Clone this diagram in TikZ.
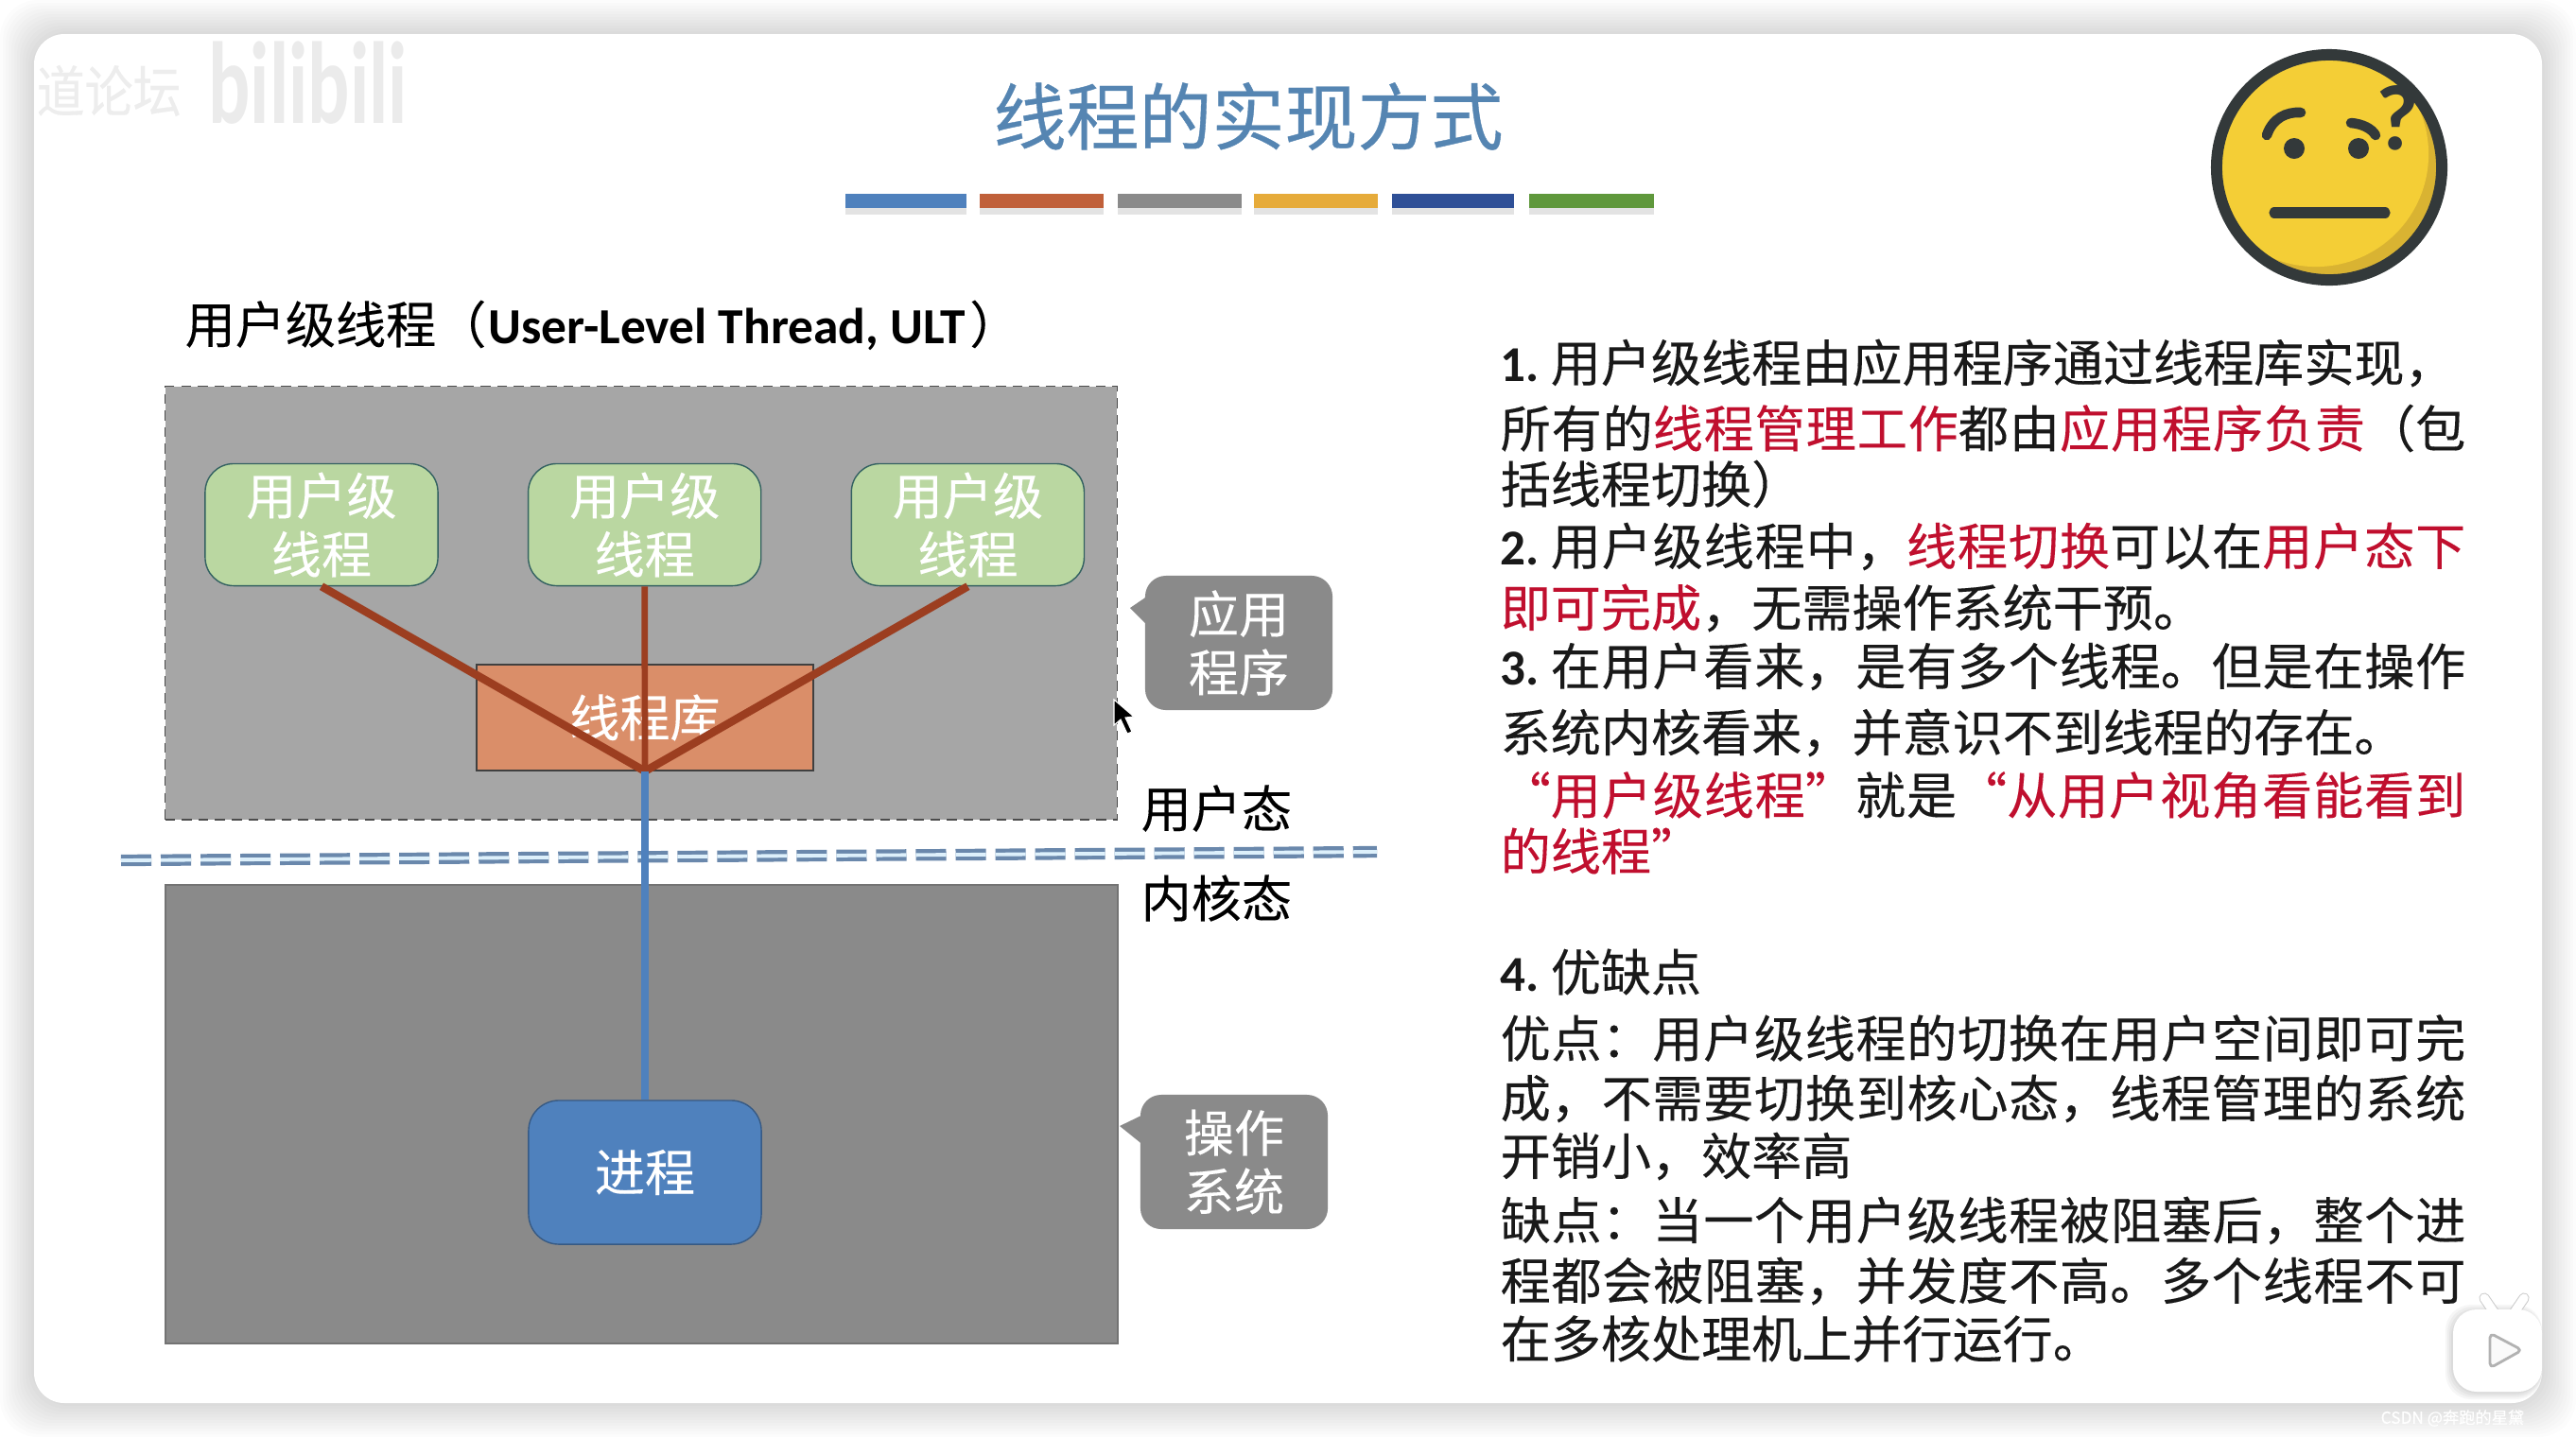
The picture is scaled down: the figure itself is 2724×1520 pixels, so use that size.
\documentclass[tikz,border=0pt]{standalone}
\usepackage{fontspec}
\usetikzlibrary{shadows}
\setmainfont[FakeBold=0.2]{Noto Sans CJK SC}
\newfontfamily\titlefont[FakeBold=0.5]{Noto Sans CJK SC}
\newfontfamily\latinfont{Carlito}
\XeTeXlinebreaklocale "zh"
\XeTeXlinebreakskip=0pt plus 3pt
\newcommand{\bodysize}{\fontsize{15.1}{17.6}\selectfont}
\newcommand{\num}[1]{{\latinfont\bfseries #1}\hspace{0.12cm}}
\newcommand{\redtext}[1]{\textcolor{alertred}{#1}}
\newcommand{\fullline}[1]{\parbox{10.2cm}{\parfillskip=0pt\parindent=0pt\hbadness=10000 #1}}
\definecolor{titleblue}{HTML}{5585B2}
\definecolor{alertred}{HTML}{C00F2E}
\definecolor{userbox}{HTML}{A6A6A6}
\definecolor{kernelbox}{HTML}{8A8A8A}
\definecolor{threadgreen}{HTML}{BAD7A1}
\definecolor{libraryorange}{HTML}{DA8E69}
\definecolor{linkbrown}{HTML}{9C3E20}
\definecolor{procblue}{HTML}{4F81BD}
\definecolor{facedark}{HTML}{33393A}
\definecolor{faceyellow}{HTML}{F4CE36}
\definecolor{faceshade}{HTML}{D9B332}
\definecolor{dashblue}{HTML}{6A88AC}
\definecolor{dashpale}{HTML}{DDF0FB}
\tikzstyle{thread} = [
    rectangle,
    rounded corners=0.3cm,
    minimum width=2.46cm,
    minimum height=1.29cm,
    inner sep=0pt,
    align=center,
    fill=threadgreen,
    draw=black!40!teal!60!gray,
    text=white,
    font=\bodysize
]
\tikzstyle{library} = [
    rectangle,
    minimum width=3.56cm,
    minimum height=1.12cm,
    inner sep=0pt,
    fill=libraryorange,
    draw=black!50!gray,
    text=white,
    font=\bodysize
]
\tikzstyle{procbox} = [
    rectangle,
    rounded corners=0.32cm,
    minimum width=2.46cm,
    minimum height=1.52cm,
    inner sep=0pt,
    fill=procblue,
    draw=procblue!70!black,
    text=white,
    font=\bodysize
]
\tikzstyle{callout} = [
    rectangle,
    rounded corners=0.22cm,
    minimum width=1.98cm,
    minimum height=1.42cm,
    inner sep=0pt,
    align=center,
    fill=kernelbox,
    text=white,
    font=\bodysize
]
\tikzstyle{textline} = [anchor=west, inner sep=0pt, text=black!90, font=\bodysize]
\tikzstyle{statelabel} = [anchor=west, inner sep=0pt, text=black, font=\bodysize]
\tikzstyle{colourbar} = [
    minimum height=0.15cm,
    inner sep=0pt,
    anchor=west,
    drop shadow={opacity=0.22, shadow xshift=0cm, shadow yshift=-0.07cm}
]
\tikzstyle{thicklink} = [line width=2.4pt, draw=linkbrown]
\tikzstyle{bluelink} = [line width=2pt, draw=procblue]
\begin{document}
\begin{tikzpicture}[x=0.01cm, y=-0.01cm, node distance=3.415cm]
\useasboundingbox (0,0) rectangle (2724,1520);

% slide with its soft shadow
\fill [white] (0,0) rectangle (2724,1520);
\foreach \r in {36,33,...,0}
    \fill [black, opacity=0.013, rounded corners=0.4cm]
        (36-\r,36-\r) rectangle (2688+\r,1484+\r);
\fill [white, rounded corners=0.32cm] (36,36) rectangle (2688,1484);

% watermarks
\node (station) [anchor=west, inner sep=0pt, text=black!7, yscale=1.15, font=\fontsize{14.5}{16}\selectfont] at (38,96) {道论坛};
\node (bilibili) [anchor=west, inner sep=0pt, text=black!8, xscale=0.87, yscale=1.3, font=\latinfont\bfseries\fontsize{27}{28}\selectfont] at (220,88) {bilibili};
\node (csdn) [anchor=west, inner sep=0pt, text=white, font=\fontsize{4.9}{6}\selectfont] at (2517,1500) {CSDN @奔跑的星黛};

% title
\node (title) [text=titleblue, inner sep=0pt, font=\titlefont\fontsize{21.9}{24}\selectfont] at (1320,123) {线程的实现方式};
\node (bar1) [colourbar, minimum width=1.28cm, fill=procblue] at (893,212) {};
\node (bar2) [colourbar, minimum width=1.31cm, fill={rgb,255:red,192;green,96;blue,58}] at (1035,212) {};
\node (bar3) [colourbar, minimum width=1.31cm, fill=kernelbox] at (1181,212) {};
\node (bar4) [colourbar, minimum width=1.31cm, fill={rgb,255:red,230;green,171;blue,58}] at (1325,212) {};
\node (bar5) [colourbar, minimum width=1.29cm, fill={rgb,255:red,47;green,80;blue,151}] at (1471,212) {};
\node (bar6) [colourbar, minimum width=1.32cm, fill={rgb,255:red,95;green,152;blue,60}] at (1616,212) {};

% puzzled face
\begin{scope}
    \clip (2463,177) circle [radius=1.19cm];
    \fill [faceshade] (2463,177) circle [radius=1.25cm];
    \fill [faceyellow] (2449,163) circle [radius=1.19cm];
\end{scope}
\draw [facedark, line width=3.4pt] (2463,177) circle [radius=1.19cm];
\draw [facedark, line width=3pt, line cap=round] (2397,143) .. controls (2403,125) and (2418,118) .. (2433,119);
\draw [facedark, line width=3pt, line cap=round] (2486,130) .. controls (2498,131) and (2508,136) .. (2512,143);
\fill [facedark] (2426,157) circle [radius=0.11cm];
\fill [facedark] (2494,157) circle [radius=0.11cm];
\draw [facedark, line width=3.2pt, line cap=round] (2405,225) -- (2522,225);
\node (qmark) [inner sep=0pt, text=facedark, font=\latinfont\bfseries\fontsize{28}{28}\selectfont] at (2535,125) {?};

% left part
\node (subtitle) [anchor=west, inner sep=0pt, text=black, font=\bodysize] at (195,344)
{用户级线程（\hspace{0.02cm}{\latinfont\bfseries\fontsize{15.2}{18}\selectfont User-Level Thread, ULT}\hspace{0.04cm}）};

\node (userspace) [anchor=north west, minimum width=10.06cm, minimum height=4.58cm, inner sep=0pt,
    fill=userbox, draw=black!70, densely dashed, line width=0.4pt] at (174,408) {};
\node (kernelspace) [anchor=north west, minimum width=10.06cm, minimum height=4.85cm, inner sep=0pt,
    fill=kernelbox, draw=black!55, line width=0.6pt] at (174,935) {};

\coordinate (dashstart) at (128,910);
\coordinate (dashend) at (1456,901);
\draw [draw=dashblue, line width=1.2pt, double=dashpale, double distance=1.1pt, dash pattern=on 0.32cm off 0.1cm] (dashstart) -- (dashend);

\node (thread1) [thread] at (340,555) {用户级\\线程};
\node (thread2) [thread, right of=thread1] {用户级\\线程};
\node (thread3) [thread, right of=thread2] {用户级\\线程};
\node (threadlib) [library] at (682,759) {线程库};
\node (process) [procbox] at (682,1240) {进程};

\draw [thicklink] (thread1.south) -- (threadlib.south);
\draw [thicklink, line width=1.9pt] (thread2.south) -- (threadlib.south);
\draw [thicklink] (thread3.south) -- (threadlib.south);
\draw [bluelink] (threadlib.south) -- (process.north);

\node (statuser) [statelabel] at (1206,855) {用户态};
\node (statkernel) [statelabel] at (1206,950) {内核态};

\node (appnote) [callout] at (1310,680) {应用\\程序};
\coordinate (apptip) at (1195,643);
\fill [kernelbox] (1220,626) -- (apptip) -- (1220,668) -- cycle;
\node (osnote) [callout] at (1305,1229) {操作\\系统};
\coordinate (ostip) at (1184,1191);
\fill [kernelbox] (1215,1176) -- (ostip) -- (1215,1216) -- cycle;

% mouse pointer
\fill [black, draw=white, line width=0.3pt] (1178,740) -- (1178,767) -- (1185,761) -- (1192,776) -- (1197,774) -- (1190,759) -- (1199,758) -- cycle;

% right part
\node (line1) [textline] at (1586,384) {\num{1.}用户级线程由应用程序通过线程库实现，};
\node (line2) [textline] at (1586,453) {\fullline{所有的\redtext{线程管理工作}都由\redtext{应用程序负责}（包}};
\node (line3) [textline] at (1586,512) {括线程切换）};
\node (line4) [textline] at (1586,578) {\fullline{\num{2.}用户级线程中，\redtext{线程切换}可以在\redtext{用户态下}}};
\node (line5) [textline] at (1586,643) {\redtext{即可完成}，无需操作系统干预。};
\node (line6) [textline] at (1586,705) {\fullline{\num{3.}在用户看来，是有多个线程。但是在操作}};
\node (line7) [textline] at (1586,775) {系统内核看来，并意识不到线程的存在。};
\node (line8) [textline] at (1586,841) {\fullline{\redtext{“用户级线程”}就是\redtext{“从用户视角看能看到}}};
\node (line9) [textline] at (1586,900) {\redtext{的线程”}};
\node (line10) [textline] at (1586,1028) {\num{4.}优缺点};
\node (line11) [textline] at (1586,1098) {\fullline{优点：用户级线程的切换在用户空间即可完}};
\node (line12) [textline] at (1586,1162) {\fullline{成，不需要切换到核心态，线程管理的系统}};
\node (line13) [textline] at (1586,1223) {开销小，效率高};
\node (line14) [textline] at (1586,1291) {\fullline{缺点：当一个用户级线程被阻塞后，整个进}};
\node (line15) [textline] at (1586,1355) {\fullline{程都会被阻塞，并发度不高。多个线程不可}};
\node (line16) [textline] at (1586,1416) {在多核处理机上并行运行。};

% player badge
\foreach \r in {8,6,4,2}
    \fill [black, opacity=0.035, rounded corners=0.27cm] (2594-\r,1385-\r+3) rectangle (2688,1472+\r);
\draw [black!20, line width=3.2pt, line cap=round] (2627,1373) -- (2640,1392);
\draw [black!20, line width=3.2pt, line cap=round] (2669,1373) -- (2656,1392);
\draw [white, line width=2.6pt, line cap=round] (2627,1373) -- (2640,1392);
\draw [white, line width=2.6pt, line cap=round] (2669,1373) -- (2656,1392);
\fill [white, rounded corners=0.25cm] (2594,1385) rectangle (2688,1472);
\draw [black!30, fill=black!2, line width=0.8pt, line join=round, rounded corners=0.05cm] (2633,1410) -- (2667,1428) -- (2633,1447) -- cycle;
\end{tikzpicture}
\end{document}
